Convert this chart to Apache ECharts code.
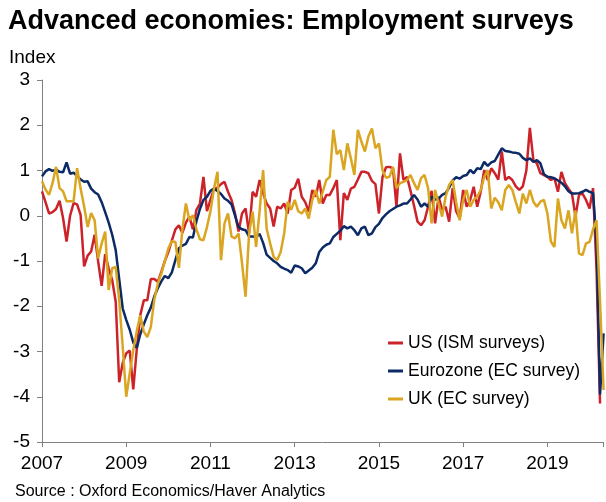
<!DOCTYPE html>
<html>
<head>
<meta charset="utf-8">
<script src="https://cdn.jsdelivr.net/npm/echarts@6/dist/echarts.min.js"></script>
<style>
  html, body { margin: 0; padding: 0; background: #fff; }
  #chart { width: 606px; height: 502px; }
</style>
</head>
<body>
<div id="chart"></div>
<script>
// monthly data, first month = Jan 2007
const startYear = 2007
const seriesNames = ['US (ISM surveys)', 'Eurozone (EC survey)', 'UK (EC survey)']
const yearTicks = [2007, 2009, 2011, 2013, 2015, 2017, 2019]

const usValues = [
  0.54, 0.30, 0.05, 0.08, 0.15, 0.33, -0.05, -0.57, 0.00, 0.28, 0.25, 0.02,
  -1.12, -0.88, -0.79, -0.42, -1.01, -1.55, -0.85, -1.16, -1.42, -1.90, -3.68, -3.25,
  -3.04, -2.98, -3.84, -2.95, -2.20, -1.87, -1.87, -1.40, -1.40, -1.46, -1.24, -1.00,
  -0.80, -0.55, -0.30, -0.21, -0.38, -0.15, -0.02, -0.30, 0.13, 0.27, 0.86, 0.10,
  0.35, 0.60, 0.62, 0.70, 0.75, 0.53, 0.35, 0.05, -0.35, 0.05, 0.16, -0.39,
  0.53, 0.42, 0.79, 0.50, 0.27, 0.16, -0.24, 0.20, 0.16, 0.27, 0.05, 0.57,
  0.62, 0.82, 0.42, 0.30, 0.09, 0.57, 0.42, 0.79, 0.27, 0.46, 0.46, 0.61,
  0.79, -0.54, 0.50, 0.35, 0.60, 0.64, 0.80, 0.97, 0.97, 0.94, 0.77, 0.70,
  0.05, 0.85, 1.07, 1.08, 1.05, 0.20, 1.38, 0.79, 0.86, 0.55, 0.22, -0.13,
  -0.21, -0.10, 0.20, 0.55, -0.17, 0.42, 0.13, 0.20, -0.13, 0.61, 0.10, -0.06,
  0.57, 0.20, 0.35, 0.64, 0.20, 0.53, 1.01, 0.79, 1.05, 0.94, 0.80, 1.42,
  0.79, 0.86, 0.79, 0.65, 0.57, 0.65, 1.00, 1.94, 1.23, 1.16, 0.94, 0.90,
  0.86, 0.79, 0.83, 0.53, 0.97, 0.72, 0.60, 0.49, -0.02, 0.46, 0.49, 0.35,
  0.16, 0.61, -1.20, -4.15
]

const ezValues = [
  0.87, 0.98, 1.03, 0.99, 1.02, 0.97, 0.96, 1.18, 0.93, 0.95, 0.88, 0.80,
  0.75, 0.76, 0.60, 0.52, 0.47, 0.30, 0.08, -0.15, -0.42, -0.76, -1.40, -2.05,
  -2.30, -2.52, -2.80, -2.92, -2.62, -2.40, -2.20, -2.03, -1.78, -1.60, -1.45, -1.33,
  -1.38, -1.25, -0.98, -0.72, -0.66, -0.62, -0.47, -0.48, -0.12, 0.15, 0.35, 0.42,
  0.55, 0.60, 0.55, 0.48, 0.38, 0.33, 0.25, 0.00, -0.25, -0.30, -0.32, -0.46,
  -0.46, -0.47, -0.40, -0.60, -0.86, -0.93, -1.00, -1.05, -1.13, -1.17, -1.20, -1.26,
  -1.10, -1.12, -1.16, -1.27, -1.21, -1.15, -1.05, -0.80, -0.70, -0.64, -0.61, -0.47,
  -0.40, -0.33, -0.23, -0.28, -0.24, -0.32, -0.43, -0.28, -0.24, -0.43, -0.39, -0.25,
  -0.18, -0.05, 0.03, 0.10, 0.15, 0.20, 0.23, 0.27, 0.27, 0.36, 0.46, 0.36,
  0.20, 0.27, 0.20, 0.42, 0.36, 0.38, 0.46, 0.50, 0.62, 0.78, 0.85, 0.82,
  0.88, 0.90, 1.01, 0.94, 1.05, 1.03, 1.19, 1.10, 1.18, 1.21, 1.35, 1.49,
  1.43, 1.42, 1.40, 1.39, 1.37, 1.28, 1.23, 1.27, 1.19, 1.23, 1.16, 0.92,
  0.86, 0.85, 0.83, 0.78, 0.73, 0.65, 0.54, 0.49, 0.49, 0.50, 0.53, 0.57,
  0.53, 0.50, -0.60, -3.95, -2.60
]

const ukValues = [
  0.76, 0.58, 0.46, 0.72, 1.08, 0.61, 0.54, 0.32, 0.32, 0.32, 1.05, 0.60,
  0.21, -0.25, 0.06, -0.10, -0.94, -0.61, -0.35, -1.64, -1.16, -1.13, -1.87, -2.90,
  -4.00, -3.48, -2.97, -2.55, -2.20, -2.56, -2.68, -2.46, -1.85, -1.50, -1.28, -1.00,
  -0.72, -0.56, -0.58, -1.15, -0.30, 0.27, -0.10, 0.01, -0.30, -0.52, -0.54, -0.25,
  0.10, 0.60, 0.97, -0.98, -0.17, 0.05, -0.46, -0.50, -0.39, -1.05, -1.79, -0.39,
  0.09, -0.69, 0.10, 1.01, -0.28, -0.61, -0.91, -0.98, -0.80, -0.39, 0.31, 0.13,
  0.35, 0.10, 0.05, 0.16, -0.06, 0.35, 0.57, 0.27, 0.53, 0.79, 0.86, 1.90,
  1.36, 1.45, 1.01, 1.60, 1.27, 0.90, 1.90, 1.64, 1.42, 1.75, 1.93, 1.49,
  1.60, 1.01, 0.84, 0.86, 1.08, 0.61, 0.72, 0.75, 0.79, 0.90, 0.72, 0.57,
  0.83, 0.90, 0.61, -0.17, 0.57, 0.27, -0.02, 0.42, 0.68, 0.79, 0.30, -0.10,
  0.35, 0.57, 0.20, 0.35, 0.42, 0.57, 0.86, 1.01, 0.16, 0.40, 0.30, 0.12,
  0.57, 0.68, 0.57, 0.30, 0.05, 0.49, 0.27, 0.57, 0.31, 0.20, 0.31, 0.35,
  0.05, -0.57, -0.69, 0.38, -0.10, -0.28, 0.12, -0.39, 0.12, -0.83, -0.87, -0.61,
  -0.58, -0.30, -0.10, -1.90, -3.85
]

const colors = ['#CC2229', '#0B2A66', '#DAA520']

function toPoints(values) {
  return values.map((v, i) => [startYear + i / 12, v])
}

let chart = echarts.init(document.getElementById('chart'))
chart.setOption({
  animation: false,
  color: colors,
  grid: { left: 42, right: 0, top: 80, bottom: 60, containLabel: false },
  xAxis: {
    type: 'value',
    min: 2007,
    max: 2020.32,
    interval: 2,
    axisLine: { show: true, onZero: false, lineStyle: { color: '#808080', width: 1 } },
    axisTick: { show: true, inside: false, length: 5, lineStyle: { color: '#808080' } },
    splitLine: { show: false },
    axisLabel: {
      color: '#000',
      fontFamily: 'Liberation Sans, Arial',
      fontSize: 19,
      margin: 12,
      formatter: v => (yearTicks.indexOf(Math.round(v)) >= 0 && Math.abs(v - Math.round(v)) < 1e-6) ? String(Math.round(v)) : ''
    }
  },
  yAxis: {
    type: 'value',
    min: -5,
    max: 3,
    interval: 1,
    axisLine: { show: true, onZero: false, lineStyle: { color: '#808080', width: 1 } },
    axisTick: { show: true, inside: false, length: 5, lineStyle: { color: '#808080' } },
    splitLine: { show: false },
    axisLabel: { color: '#000', fontFamily: 'Liberation Sans, Arial', fontSize: 19, margin: 12 }
  },
  legend: {
    orient: 'vertical',
    left: 383,
    top: 329,
    icon: 'rect',
    itemWidth: 15,
    itemHeight: 3,
    itemGap: 10,
    textStyle: { color: '#000', fontFamily: 'Liberation Sans, Arial', fontSize: 17.5 },
    data: seriesNames
  },
  graphic: [
    {
      type: 'text', left: 8, top: 8,
      style: { text: 'Advanced economies: Employment surveys', font: 'bold 27px "Liberation Sans", Arial', fill: '#000' }
    },
    {
      type: 'text', left: 9, top: 48,
      style: { text: 'Index', font: '19px "Liberation Sans", Arial', fill: '#000' }
    },
    {
      type: 'text', left: 15, top: 484,
      style: { text: 'Source : Oxford Economics/Haver Analytics', font: '16px "Liberation Sans", Arial', fill: '#000' }
    }
  ],
  series: [
    { name: seriesNames[0], type: 'line', data: toPoints(usValues), symbol: 'none', lineStyle: { width: 2.5 } },
    { name: seriesNames[1], type: 'line', data: toPoints(ezValues), symbol: 'none', lineStyle: { width: 2.5 } },
    { name: seriesNames[2], type: 'line', data: toPoints(ukValues), symbol: 'none', lineStyle: { width: 2.5 } }
  ]
})
</script>
</body>
</html>
